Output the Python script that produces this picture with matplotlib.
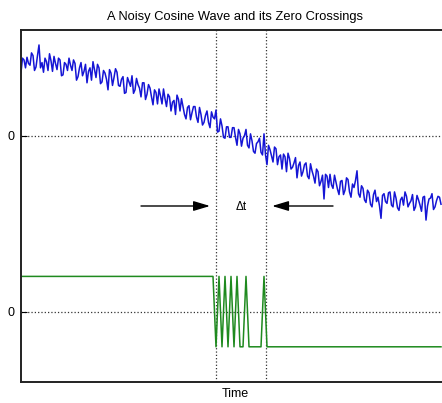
import matplotlib
matplotlib.use("Agg")
import matplotlib.pyplot as plt

plt.rcParams['font.family'] = ['Liberation Sans', 'DejaVu Sans']

# ---------------------------------------------------------------------
# data (sample index = time)
# ---------------------------------------------------------------------
noisy_cos = [
    0.72, 0.88, 0.86, 0.77, 0.89, 0.82, 0.80, 0.94, 0.91, 0.74,
    0.78, 0.91, 1.03, 0.77, 0.83, 0.72, 0.88, 0.84, 0.74, 0.93,
    0.85, 0.73, 0.90, 0.82, 0.75, 0.88, 0.86, 0.68, 0.69, 0.83,
    0.81, 0.74, 0.88, 0.80, 0.74, 0.86, 0.82, 0.63, 0.67, 0.77,
    0.83, 0.68, 0.73, 0.81, 0.60, 0.73, 0.77, 0.63, 0.84, 0.75,
    0.66, 0.81, 0.77, 0.59, 0.61, 0.74, 0.71, 0.64, 0.52, 0.75,
    0.71, 0.57, 0.66, 0.76, 0.72, 0.57, 0.56, 0.64, 0.67, 0.48,
    0.49, 0.66, 0.61, 0.56, 0.68, 0.48, 0.52, 0.65, 0.58, 0.54,
    0.44, 0.60, 0.60, 0.41, 0.47, 0.58, 0.54, 0.44, 0.35, 0.52,
    0.49, 0.36, 0.53, 0.45, 0.36, 0.53, 0.42, 0.33, 0.47, 0.44,
    0.28, 0.38, 0.40, 0.24, 0.46, 0.41, 0.28, 0.42, 0.33, 0.24,
    0.19, 0.32, 0.34, 0.18, 0.26, 0.33, 0.33, 0.21, 0.15, 0.32,
    0.24, 0.12, 0.15, 0.23, 0.28, 0.15, 0.09, 0.27, 0.21, 0.19,
    0.29, 0.04, 0.05, 0.19, 0.11, -0.02, -0.03, 0.10, 0.10, -0.02,
    -0.02, 0.09, 0.09, -0.02, -0.11, 0.07, 0.02, -0.12, -0.03, 0.00,
    0.07, -0.11, -0.14, 0.02, -0.06, -0.18, -0.20, -0.09, -0.07, -0.03,
    -0.19, -0.22, 0.02, -0.22, -0.33, -0.11, -0.16, -0.23, -0.30, -0.13,
    -0.15, -0.33, -0.24, -0.22, -0.38, -0.21, -0.24, -0.41, -0.20, -0.26,
    -0.38, -0.36, -0.31, -0.25, -0.48, -0.34, -0.30, -0.46, -0.41, -0.33,
    -0.31, -0.46, -0.49, -0.32, -0.40, -0.46, -0.54, -0.38, -0.41, -0.57,
    -0.52, -0.45, -0.72, -0.44, -0.46, -0.59, -0.44, -0.56, -0.60, -0.45,
    -0.53, -0.61, -0.67, -0.52, -0.51, -0.67, -0.62, -0.48, -0.50, -0.64,
    -0.70, -0.55, -0.59, -0.51, -0.40, -0.66, -0.70, -0.57, -0.60, -0.73,
    -0.76, -0.62, -0.65, -0.78, -0.81, -0.67, -0.62, -0.75, -0.70, -0.80,
    -0.94, -0.68, -0.66, -0.75, -0.77, -0.65, -0.64, -0.79, -0.81, -0.64,
    -0.71, -0.82, -0.85, -0.73, -0.70, -0.79, -0.64, -0.69, -0.81, -0.77,
    -0.74, -0.67, -0.85, -0.81, -0.68, -0.73, -0.79, -0.86, -0.70, -0.69,
    -0.96, -0.80, -0.72, -0.71, -0.66, -0.84, -0.81, -0.74, -0.69, -0.70,
    -0.78,
]
time = list(range(len(noisy_cos)))

# sign of the noisy wave (high / low level), sampled every 2nd point
chatter = [-0.4, 0.4, -0.4, 0.4, -0.4, 0.4, -0.4, 0.4, -0.4,
           -0.4, 0.4, -0.4, -0.4, -0.4, -0.4, -0.4, 0.4, -0.4]
zero_cross = [0.4] * 65 + chatter + [-0.4] * 58
sign_time = list(range(0, 2 * len(zero_cross), 2))

crossing_times = [130, 163.4]

TOP_OFFSET = 2.0   # the cosine trace sits above the sign trace

# ---------------------------------------------------------------------
fig = plt.figure(figsize=(4.42, 4.03), dpi=100)
ax = fig.add_axes([21 / 442, 21 / 403, 428 / 442, 352 / 403])

ax.plot(time, [v + TOP_OFFSET for v in noisy_cos], color='#1515d5', lw=1.1)
ax.plot(sign_time, zero_cross, color='#1f8a1f', lw=1.1)

for y0 in (0, TOP_OFFSET):
    ax.axhline(y0, color='#333333', ls=':', lw=0.9, zorder=0)
for t in crossing_times:
    ax.axvline(t, color='#333333', ls=':', lw=0.9, zorder=0)

# delta-t arrows
arr = dict(arrowstyle='-|>,head_length=1.0,head_width=0.3', color='k', lw=1.0,
           shrinkA=0, shrinkB=0, mutation_scale=10)
ax.annotate('', xy=(126, 1.2), xytext=(80, 1.2), arrowprops=arr)
ax.annotate('', xy=(167.4, 1.2), xytext=(208, 1.2), arrowprops=arr)
ax.text(147, 1.19, 'Δt', fontsize=8.5, ha='center', va='center')

ax.set_xlim(0, 285.33)
ax.set_ylim(-0.8, 3.2)
ax.set_xticks([])
ax.set_yticks([0, TOP_OFFSET])
ax.set_yticklabels(['0', '0'])
ax.tick_params(axis='y', direction='in', length=4, labelsize=9, pad=5)

for s in ax.spines.values():
    s.set_linewidth(1.4)
    s.set_color('#222222')

ax.set_title('A Noisy Cosine Wave and its Zero Crossings', fontsize=9.3, pad=7)
ax.set_xlabel('Time', fontsize=9, labelpad=4)

fig.savefig('out.png', dpi=100)
